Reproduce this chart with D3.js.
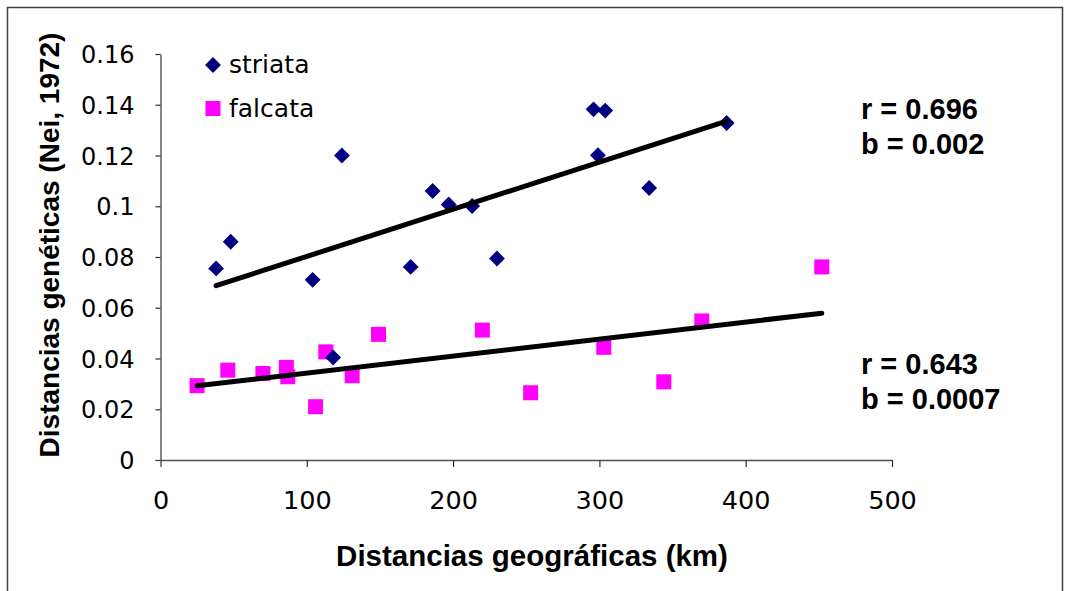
<!DOCTYPE html>
<html>
<head>
<meta charset="utf-8">
<script src="https://cdn.jsdelivr.net/npm/d3@7"></script>
<style>
  body { margin: 0; background: #fff; }
  svg { display: block; }
</style>
</head>
<body>
<div id="chart"></div>
<script>
// data
const striataKm = [38, 48, 104, 118, 124, 171, 186, 197, 213, 230, 296, 299, 304, 334, 387];
const striataDist = [0.0755, 0.086, 0.071, 0.0404, 0.120, 0.0761, 0.106, 0.1007, 0.1001, 0.0794, 0.1382, 0.1201, 0.1377, 0.1072, 0.1328];
const falcataKm = [25, 46, 70, 86, 87, 106, 113, 131, 149, 220, 253, 303, 344, 370, 452];
const falcataDist = [0.0293, 0.0354, 0.0341, 0.0365, 0.0328, 0.021, 0.0426, 0.0332, 0.0495, 0.0512, 0.0265, 0.0444, 0.0308, 0.0548, 0.0761];
const seriesNames = ["striata", "falcata"];
const xTicks = [0, 100, 200, 300, 400, 500];
const yTicks = [0, 0.02, 0.04, 0.06, 0.08, 0.1, 0.12, 0.14, 0.16];
const yTickLabels = ["0", "0.02", "0.04", "0.06", "0.08", "0.1", "0.12", "0.14", "0.16"];
const statsStriata = ["r = 0.696", "b = 0.002"];
const statsFalcata = ["r = 0.643", "b = 0.0007"];

const width = 1070, height = 591;
const regular = "'DejaVu Sans', sans-serif";
const bold = "'Liberation Sans', Arial, sans-serif";

const svg = d3.select("#chart").append("svg")
    .attr("width", width)
    .attr("height", height);

// outer frame
svg.append("rect")
    .attr("x", 7.5).attr("y", 7.5)
    .attr("width", 1055).attr("height", 620)
    .attr("fill", "none")
    .attr("stroke", "#404040")
    .attr("stroke-width", 1.5);

const x = d3.scaleLinear().domain([0, 500]).range([160.5, 892]);
const y = d3.scaleLinear().domain([0, 0.16]).range([460, 54]);

// axes
const xAxis = svg.append("g")
    .attr("transform", `translate(0,${y(0)})`)
    .call(d3.axisBottom(x).tickValues(xTicks).tickSize(7).tickSizeOuter(0).tickPadding(24));
const yAxis = svg.append("g")
    .attr("transform", `translate(${x(0)},0)`)
    .call(d3.axisLeft(y).tickValues(yTicks).tickSize(5).tickSizeOuter(0).tickPadding(21)
        .tickFormat((d, i) => yTickLabels[i]));

[xAxis, yAxis].forEach(g => {
    g.select(".domain").attr("stroke", "#505050").attr("stroke-width", 1.4);
    g.selectAll(".tick line").attr("stroke", "#303030").attr("stroke-width", 1.2);
    g.selectAll(".tick text").attr("fill", "#000").style("font-family", regular);
});
xAxis.selectAll(".tick text").style("font-size", "25.5px");
yAxis.selectAll(".tick text").style("font-size", "24px").attr("dy", "0.36em");

// axis titles
svg.append("text")
    .attr("x", 532).attr("y", 566)
    .attr("text-anchor", "middle")
    .style("font-family", bold).style("font-weight", "bold").style("font-size", "29.5px")
    .text("Distancias geográficas (km)");

svg.append("text")
    .attr("transform", "translate(59,245) rotate(-90)")
    .attr("text-anchor", "middle")
    .style("font-family", bold).style("font-weight", "bold").style("font-size", "28px")
    .text("Distancias genéticas (Nei, 1972)");

// least squares trend line, drawn over the x range of the series
function trend(xs, ys) {
    const mx = d3.mean(xs), my = d3.mean(ys);
    const sxy = d3.sum(xs, (v, i) => (v - mx) * (ys[i] - my));
    const sxx = d3.sum(xs, v => (v - mx) * (v - mx));
    const b = sxy / sxx, a = my - b * mx;
    const [x0, x1] = d3.extent(xs);
    return [[x0, a + b * x0], [x1, a + b * x1]];
}

const line = d3.line().x(d => x(d[0])).y(d => y(d[1]));

const diamond = d3.symbol().type(d3.symbolDiamond2).size(160);

// falcata squares
svg.append("g").selectAll("rect")
    .data(falcataKm.map((k, i) => [k, falcataDist[i]]))
    .join("rect")
    .attr("x", d => x(d[0]) - 7.5)
    .attr("y", d => y(d[1]) - 7.5)
    .attr("width", 15).attr("height", 15)
    .attr("fill", "#ff00ff");

// striata diamonds
svg.append("g").selectAll("path")
    .data(striataKm.map((k, i) => [k, striataDist[i]]))
    .join("path")
    .attr("transform", d => `translate(${x(d[0])},${y(d[1])})`)
    .attr("d", diamond)
    .attr("fill", "#000080");

[[striataKm, striataDist], [falcataKm, falcataDist]].forEach(([xs, ys]) => {
    svg.append("path")
        .attr("d", line(trend(xs, ys)))
        .attr("fill", "none")
        .attr("stroke", "#000")
        .attr("stroke-width", 5)
        .attr("stroke-linecap", "round");
});

// legend
const legend = svg.append("g").attr("transform", "translate(213,0)");
legend.append("path")
    .attr("transform", "translate(0,65)")
    .attr("d", diamond)
    .attr("fill", "#000080");
legend.append("rect")
    .attr("x", -7.5).attr("y", 101)
    .attr("width", 15).attr("height", 15)
    .attr("fill", "#ff00ff");
legend.selectAll("text")
    .data(seriesNames)
    .join("text")
    .attr("x", 16)
    .attr("y", (d, i) => 73 + i * 43.5)
    .style("font-family", regular).style("font-size", "25px")
    .text(d => d);

// r and b annotations
[[statsStriata, 119], [statsFalcata, 374]].forEach(([lines, y0]) => {
    svg.append("g").selectAll("text")
        .data(lines)
        .join("text")
        .attr("x", 861)
        .attr("y", (d, i) => y0 + i * 34.5)
        .style("font-family", bold).style("font-weight", "bold").style("font-size", "29px")
        .text(d => d);
});
</script>
</body>
</html>
